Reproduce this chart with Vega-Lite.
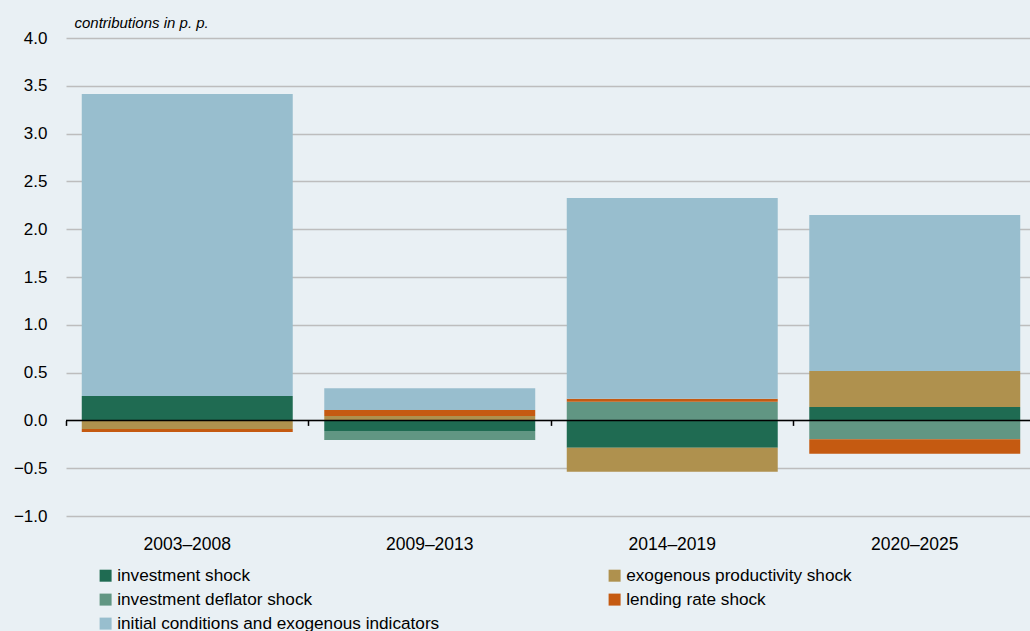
{
  "$schema": "https://vega.github.io/schema/vega-lite/v6.json",
  "width": 970,
  "height": 478,
  "autosize": {"type": "none"},
  "padding": {"left": 66, "top": 38, "right": 0, "bottom": 115},
  "background": "#E9F0F4",
  "config": {"view": {"stroke": null}, "font": "Liberation Sans"},
  "data": {"values": [
    {"period": "2003–2008", "series": "investment shock", "ord": 1, "value": 0.255},
    {"period": "2003–2008", "series": "investment deflator shock", "ord": 2, "value": 0},
    {"period": "2003–2008", "series": "exogenous productivity shock", "ord": 3, "value": -0.09},
    {"period": "2003–2008", "series": "lending rate shock", "ord": 4, "value": -0.032},
    {"period": "2003–2008", "series": "initial conditions and exogenous indicators", "ord": 5, "value": 3.16},
    {"period": "2009–2013", "series": "investment shock", "ord": 1, "value": -0.11},
    {"period": "2009–2013", "series": "investment deflator shock", "ord": 2, "value": -0.095},
    {"period": "2009–2013", "series": "exogenous productivity shock", "ord": 3, "value": 0.045},
    {"period": "2009–2013", "series": "lending rate shock", "ord": 4, "value": 0.065},
    {"period": "2009–2013", "series": "initial conditions and exogenous indicators", "ord": 5, "value": 0.225},
    {"period": "2014–2019", "series": "investment shock", "ord": 1, "value": -0.286},
    {"period": "2014–2019", "series": "investment deflator shock", "ord": 2, "value": 0.196},
    {"period": "2014–2019", "series": "exogenous productivity shock", "ord": 3, "value": -0.25},
    {"period": "2014–2019", "series": "lending rate shock", "ord": 4, "value": 0.031},
    {"period": "2014–2019", "series": "initial conditions and exogenous indicators", "ord": 5, "value": 2.1},
    {"period": "2020–2025", "series": "investment shock", "ord": 1, "value": 0.14},
    {"period": "2020–2025", "series": "investment deflator shock", "ord": 2, "value": -0.198},
    {"period": "2020–2025", "series": "exogenous productivity shock", "ord": 3, "value": 0.377},
    {"period": "2020–2025", "series": "lending rate shock", "ord": 4, "value": -0.15},
    {"period": "2020–2025", "series": "initial conditions and exogenous indicators", "ord": 5, "value": 1.632}
  ]},
  "layer": [
    {
      "mark": {"type": "bar", "width": {"band": 0.87}},
      "encoding": {
        "x": {"field": "period", "type": "nominal", "sort": null,
              "scale": {"paddingInner": 0, "paddingOuter": 0},
              "axis": {"orient": "bottom", "domain": false, "ticks": false, "labelFontSize": 17.5, "labelPadding": 19, "labelColor": "black", "labelAngle": 0, "title": null, "grid": false}},
        "y": {"field": "value", "type": "quantitative", "stack": "zero",
              "scale": {"domain": [-1, 4], "nice": false},
              "axis": {"values": [-1, -0.5, 0, 0.5, 1, 1.5, 2, 2.5, 3, 3.5, 4], "labelExpr": "replace(format(datum.value, '.1f'), '-', '–')", "domain": false, "ticks": false, "grid": true, "gridColor": "#BDBDBD", "gridWidth": 1.5, "labelFontSize": 17, "labelColor": "black", "labelPadding": 19,
                       "title": "contributions in p. p.", "titleAngle": 0, "titleX": 8, "titleY": -11, "titleAlign": "left", "titleBaseline": "alphabetic", "titleFontSize": 15, "titleFontStyle": "italic", "titleFontWeight": "normal", "titleColor": "black"}},
        "color": {"field": "series", "type": "nominal",
                  "scale": {"domain": ["investment shock", "investment deflator shock", "initial conditions and exogenous indicators", "exogenous productivity shock", "lending rate shock"],
                            "range": ["#1F6B52", "#619683", "#98BECE", "#AF914E", "#C55A11"]},
                  "legend": {"orient": "none", "legendX": 31, "legendY": 529, "columns": 2, "columnPadding": 166, "rowPadding": 6, "symbolType": "square", "symbolSize": 144, "symbolStrokeWidth": 0, "labelFontSize": 17.2, "labelColor": "black", "labelOffset": 3, "title": null, "padding": 0, "labelLimit": 500}},
        "order": {"field": "ord", "type": "quantitative"}
      }
    },
    {
      "data": {"values": [{"z": 0}]},
      "mark": {"type": "rule", "color": "black", "strokeWidth": 1.5},
      "encoding": {"y": {"field": "z", "type": "quantitative"}}
    },
    {
      "mark": {"type": "rule", "opacity": 0},
      "encoding": {
        "x": {"field": "period", "type": "nominal", "sort": null,
              "axis": {"orient": "bottom", "bandPosition": 0, "labels": false, "domain": false, "ticks": true, "tickSize": 5, "tickColor": "black", "tickWidth": 1.5, "offset": -95.6, "grid": false, "title": null}}
      }
    }
  ],
  "resolve": {"axis": {"x": "independent"}}
}
